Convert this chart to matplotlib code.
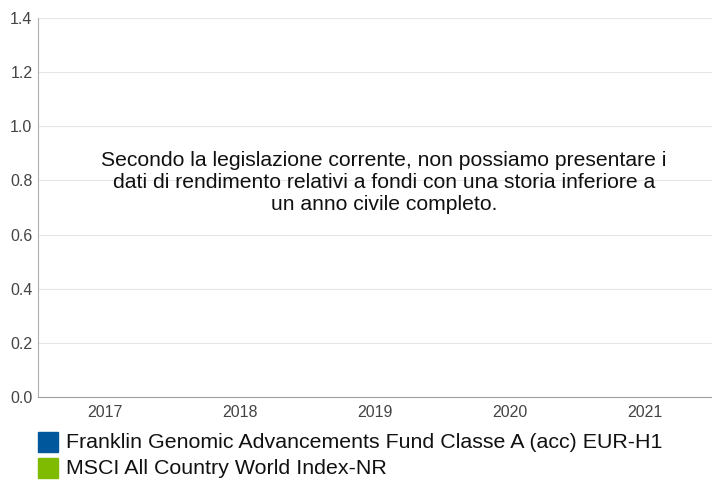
import matplotlib.pyplot as plt
from matplotlib.patches import Rectangle

years = ["2017", "2018", "2019", "2020", "2021"]
series_names = ["Franklin Genomic Advancements Fund Classe A (acc) EUR-H1",
                "MSCI All Country World Index-NR"]
series_colors = ["#00579c", "#7fbb00"]
yticks = [0.0, 0.2, 0.4, 0.6, 0.8, 1.0, 1.2, 1.4]
message = ("Secondo la legislazione corrente, non possiamo presentare i\n"
           "dati di rendimento relativi a fondi con una storia inferiore a\n"
           "un anno civile completo.")

plt.rcParams['font.family'] = ['Liberation Sans', 'DejaVu Sans']

fig = plt.figure(figsize=(7.12, 4.82), dpi=100)
ax = fig.add_axes([38 / 712, 1 - 397 / 482, 674 / 712, 379 / 482])

ax.set_xlim(-0.5, len(years) - 0.5)
ax.set_ylim(0, 1.4)
ax.set_xticks(range(len(years)))
ax.set_xticklabels(years)
ax.set_yticks(yticks)
ax.set_yticklabels([f"{v:.1f}" for v in yticks])
ax.tick_params(axis='both', length=0, labelsize=11.5, colors="#444444")
ax.tick_params(axis='x', pad=6)
ax.tick_params(axis='y', pad=4)
ax.grid(axis='y', color="#e6e6e6", linewidth=0.8)
ax.set_axisbelow(True)
for s in ["top", "right"]:
    ax.spines[s].set_visible(False)
ax.spines["left"].set_color("#b0b0b0")
ax.spines["bottom"].set_color("#a0a0a0")

fig.text(384 / 712, 1 - 182 / 482, message, ha="center", va="center",
         fontsize=15.2, color="#111111", linespacing=1.2)

for i, (name, col) in enumerate(zip(series_names, series_colors)):
    y = 432 + i * 26
    fig.patches.append(Rectangle((38 / 712, 1 - (y + 20) / 482), 20 / 712, 20 / 482,
                                 transform=fig.transFigure, color=col))
    fig.text(66 / 712, 1 - (y + 10) / 482, name, ha="left", va="center",
             fontsize=15.4, color="#111111")

fig.savefig("out.png", dpi=100)
